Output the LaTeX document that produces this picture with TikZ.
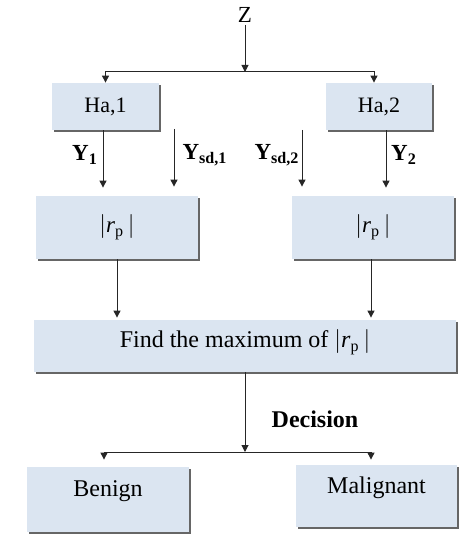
\documentclass[tikz,border=0pt]{standalone}
\usepackage{fontspec}
\setmainfont{Liberation Serif}
\usetikzlibrary{arrows.meta,shadows}
\definecolor{boxblue}{RGB}{219,229,241}
\tikzset{
	blk/.style={fill=boxblue, inner sep=0pt, font=\fontsize{11.5}{13}\selectfont,
		drop shadow={shadow xshift=0.9pt, shadow yshift=-0.9pt, fill=black!60, opacity=1}},
	arr/.style={-{Triangle[length=3.5pt,width=3.5pt]}, line width=0.5pt, black!85},
	lbl/.style={font=\fontsize{11.5}{13}\selectfont\bfseries, inner sep=0pt}
}

\begin{document}
\begin{tikzpicture}[x=0.5pt,y=-0.5pt]
			\useasboundingbox (0,0) rectangle (474,535);
			\node (z) at (245,15) [font=\fontsize{11.5}{12}\selectfont, inner sep=1pt] {Z};
			\node[blk, minimum width=53.5pt, minimum height=23.5pt, font=\fontsize{11}{12}\selectfont] (ha1) at (105.5,106.5) {Ha,1};
			\node[blk, minimum width=53pt, minimum height=23.5pt, font=\fontsize{11}{12}\selectfont] (ha2) at (379,106.5) {Ha,2};
			\node[blk, minimum width=81pt, minimum height=31.5pt] (rp1) at (117,227.5) {$|$\textit{r}\textsubscript{p}\,$|$};
			\node[blk, minimum width=81pt, minimum height=31.5pt] (rp2) at (373,227.5) {$|$\textit{r}\textsubscript{p}\,$|$};
			\node[blk, minimum width=211pt, minimum height=26pt, font=\fontsize{12}{14}\selectfont, text height=8pt, text depth=6.1pt] (find) at (245,346) {Find the maximum of $|$\textit{r}\textsubscript{p}\,$|$};
			\node[blk, minimum width=81pt, minimum height=32.5pt, font=\fontsize{12}{14}\selectfont, text height=8pt, text depth=10.6pt] (benign) at (108,499.5) {Benign};
			\node[blk, minimum width=80.5pt, minimum height=31pt, font=\fontsize{12}{14}\selectfont, text height=8pt, text depth=10.2pt] (malig) at (376.5,496) {Malignant};
			
			\coordinate (zsplit) at (245,72);
			\coordinate (dsplit) at (245,452);
			\coordinate (sd1) at (174,129);
			\coordinate (sd2) at (302,130);
			
			\draw[arr] (z) -- (zsplit);
			\draw[arr] (zsplit) -| (ha1.north);
			\draw[arr] (zsplit) -| (ha2.north -| 374,0);
			
			\draw[arr, shorten >=4pt] (ha1.south -| 103,0) -- (rp1.north -| 103,0);
			\draw[arr, shorten >=4.5pt] (sd1) -- (rp1.north -| sd1);
			\draw[arr, shorten >=4.5pt] (sd2) -- (rp2.north -| sd2);
			\draw[arr, shorten >=4pt] (ha2.south -| 386,0) -- (rp2.north -| 386,0);
			\node[lbl] (y1) at (85,155) {Y\textsubscript{1}};
			\node[lbl] (ysd1) at (205,155) {Y\textsubscript{sd,1}};
			\node[lbl] (ysd2) at (277,155) {Y\textsubscript{sd,2}};
			\node[lbl] (y2) at (404,155) {Y\textsubscript{2}};
			
			\draw[arr, shorten >=1pt] (rp1.south) -- (find.north -| rp1.south);
			\draw[arr, shorten >=1pt] (rp2.south -| 371,0) -- (find.north -| 371,0);
			
			\draw[arr] (find) -- (dsplit);
			\node[lbl, font=\fontsize{12}{14}\selectfont\bfseries] (dec) at (315,419) {Decision};
			\draw[arr, shorten >=3.5pt] (dsplit) -| (benign.north -| 104,0);
			\draw[arr, shorten >=2.5pt] (dsplit) -| (malig.north -| 371,0);
		\end{tikzpicture}
\end{document}
